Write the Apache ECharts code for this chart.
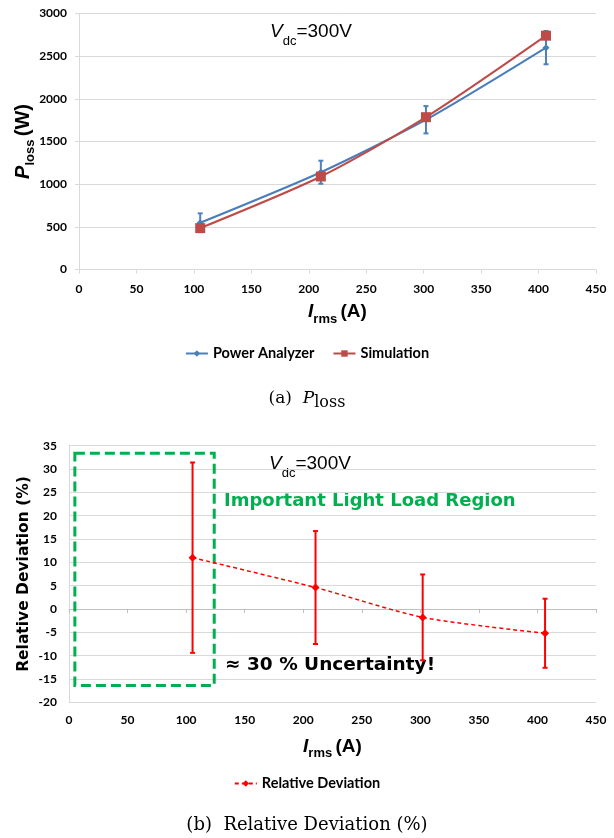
<!DOCTYPE html>
<html>
<head>
<meta charset="utf-8">
<script src="https://cdn.jsdelivr.net/npm/echarts@6/dist/echarts.min.js"></script>
<style>
html,body{margin:0;padding:0;background:#fff;}
#c{width:614px;height:838px;}
</style>
</head>
<body>
<div id="c"></div>
<script>
// ---- data ----
var currentA = [105.5, 210.5, 302, 406.5];
var powerAnalyzer = [548, 1140, 1755, 2600];
var powerAnalyzerErr = [110, 135, 160, 195];
var simulation = [485, 1090, 1785, 2740];
var relDeviation = [11.0, 4.6, -1.8, -5.2];
var relDeviationErr = [20.4, 12.1, 9.2, 7.4];
var xTicks = [0, 50, 100, 150, 200, 250, 300, 350, 400, 450];
var lossTicks = [0, 500, 1000, 1500, 2000, 2500, 3000];
var devTicks = [-20, -15, -10, -5, 0, 5, 10, 15, 20, 25, 30, 35];
var regionBox = [[5, 33.4], [124, -16.4]];

function pairs(xs, ys) { return xs.map(function (x, i) { return [x, ys[i]]; }); }
function errData(xs, ys, es) { return xs.map(function (x, i) { return [x, ys[i] - es[i], ys[i] + es[i]]; }); }

function errRender(color, width, cap) {
  return function (params, api) {
    var lo = api.coord([api.value(0), api.value(1)]);
    var hi = api.coord([api.value(0), api.value(2)]);
    var st = { stroke: color, lineWidth: width };
    return { type: 'group', children: [
      { type: 'line', shape: { x1: lo[0], y1: lo[1], x2: hi[0], y2: hi[1] }, style: st },
      { type: 'line', shape: { x1: lo[0] - cap, y1: lo[1], x2: lo[0] + cap, y2: lo[1] }, style: st },
      { type: 'line', shape: { x1: hi[0] - cap, y1: hi[1], x2: hi[0] + cap, y2: hi[1] }, style: st }
    ]};
  };
}

function plain(v) { return String(v); }
var tickFont = { fontFamily: 'Lato', fontWeight: 'bold', fontSize: 12, color: '#000', formatter: plain };
var gridColor = '#d9d9d9';

var chart = echarts.init(document.getElementById('c'), null, { renderer: 'canvas' });

var vdcRich = {
  v: { fontFamily: 'Liberation Sans', fontStyle: 'italic', fontSize: 19, color: '#000', verticalAlign: 'top' },
  s: { fontFamily: 'Liberation Sans', fontSize: 13, color: '#000', padding: [13, 0, 0, 0], verticalAlign: 'top' },
  n: { fontFamily: 'Liberation Sans', fontSize: 19, color: '#000', verticalAlign: 'top' }
};
var irmsRich = {
  i: { fontFamily: 'Liberation Sans', fontStyle: 'italic', fontWeight: 'bold', fontSize: 19, color: '#000', verticalAlign: 'top' },
  s: { fontFamily: 'Liberation Sans', fontWeight: 'bold', fontSize: 13, color: '#000', padding: [10, 0, 0, 0], verticalAlign: 'top' },
  b: { fontFamily: 'Liberation Sans', fontWeight: 'bold', fontSize: 19, color: '#000', verticalAlign: 'top' }
};
var plossRich = {
  p: { fontFamily: 'Liberation Sans', fontStyle: 'italic', fontWeight: 'bold', fontSize: 20, color: '#000', verticalAlign: 'top' },
  s: { fontFamily: 'Liberation Sans', fontWeight: 'bold', fontSize: 13, color: '#000', padding: [11, 0, 0, 0], verticalAlign: 'top' },
  b: { fontFamily: 'Liberation Sans', fontWeight: 'bold', fontSize: 20, color: '#000', verticalAlign: 'top' }
};

var option = {
  animation: false,
  backgroundColor: '#fff',
  title: [
    { text: '(a)  {p|P}{s|loss}', left: 'center', top: 382,
      textStyle: { fontFamily: 'DejaVu Serif', fontWeight: 'normal', fontSize: 17, color: '#000',
        rich: { p: { fontFamily: 'DejaVu Serif', fontStyle: 'italic', fontSize: 17 },
                s: { fontFamily: 'DejaVu Serif', fontSize: 16, padding: [8, 0, 0, 0], verticalAlign: 'bottom' } } } },
    { text: '(b)  Relative Deviation (%)', left: 'center', top: 811,
      textStyle: { fontFamily: 'DejaVu Serif', fontWeight: 'normal', fontSize: 18, color: '#000' } }
  ],
  legend: [
    { data: ['Power Analyzer', 'Simulation'], top: 341, left: 'center', itemWidth: 22, itemHeight: 8, itemGap: 18,
      textStyle: { fontFamily: 'Lato', fontWeight: 'bold', fontSize: 14.5, color: '#000' } },
    { data: ['Relative Deviation'], top: 771, left: 'center', itemWidth: 22, itemHeight: 8,
      textStyle: { fontFamily: 'Lato', fontWeight: 'bold', fontSize: 14.5, color: '#000' } }
  ],
  grid: [
    { left: 79, top: 13.5, width: 517, height: 256 },
    { left: 69, top: 445.7, width: 527, height: 256.6 }
  ],
  xAxis: [
    { gridIndex: 0, type: 'value', min: xTicks[0], max: xTicks[xTicks.length - 1], interval: 50,
      axisLine: { onZero: false, lineStyle: { color: gridColor } }, axisTick: { show: true, length: 4, lineStyle: { color: gridColor } },
      splitLine: { show: false }, axisLabel: Object.assign({}, tickFont, { margin: 14 }),
      name: '{i|I}{s|rms} {b|(A)}', nameLocation: 'middle', nameGap: 33, nameMoveOverlap: false,
      nameTextStyle: { rich: irmsRich } },
    { gridIndex: 1, type: 'value', min: xTicks[0], max: xTicks[xTicks.length - 1], interval: 50, position: 'bottom',
      axisLine: { show: false, onZero: false }, axisTick: { show: false },
      splitLine: { show: false }, axisLabel: Object.assign({}, tickFont, { margin: 12 }),
      name: '{i|I}{s|rms} {b|(A)}', nameLocation: 'middle', nameGap: 35, nameMoveOverlap: false,
      nameTextStyle: { rich: irmsRich } },
    { gridIndex: 1, type: 'value', min: xTicks[0], max: xTicks[xTicks.length - 1], interval: 50, position: 'bottom',
      axisLine: { show: true, onZero: true, onZeroAxisIndex: 1, lineStyle: { color: '#bfbfbf' } },
      axisTick: { show: true, length: 4, lineStyle: { color: '#bfbfbf' } },
      splitLine: { show: false }, axisLabel: { show: false } }
  ],
  yAxis: [
    { gridIndex: 0, type: 'value', min: lossTicks[0], max: lossTicks[lossTicks.length - 1], interval: 500,
      axisLine: { show: true, lineStyle: { color: gridColor } }, axisTick: { show: true, length: 4, lineStyle: { color: gridColor } },
      splitLine: { lineStyle: { color: gridColor } }, axisLabel: Object.assign({}, tickFont, { margin: 12 }),
      name: '{p|P}{s|loss} {b|(W)}', nameLocation: 'middle', nameGap: 42, nameRotate: 90, nameMoveOverlap: false,
      nameTextStyle: { rich: plossRich } },
    { gridIndex: 1, type: 'value', min: devTicks[0], max: devTicks[devTicks.length - 1], interval: 5,
      axisLine: { show: true, lineStyle: { color: gridColor } }, axisTick: { show: false },
      splitLine: { lineStyle: { color: gridColor } }, axisLabel: Object.assign({}, tickFont, { margin: 12 }),
      name: 'Relative Deviation (%)', nameLocation: 'middle', nameGap: 37, nameRotate: 90, nameMoveOverlap: false,
      nameTextStyle: { fontFamily: 'DejaVu Sans', fontWeight: 'bold', fontSize: 15.5, color: '#000' } }
  ],
  series: [
    { name: 'PA err', type: 'custom', xAxisIndex: 0, yAxisIndex: 0, z: 3,
      renderItem: errRender('#4f81bd', 2, 2.5), data: errData(currentA, powerAnalyzer, powerAnalyzerErr), silent: true },
    { name: 'Power Analyzer', type: 'line', xAxisIndex: 0, yAxisIndex: 0, smooth: 0.25,
      data: pairs(currentA, powerAnalyzer), symbol: 'diamond', symbolSize: 7,
      lineStyle: { color: '#4a7ebb', width: 2 }, itemStyle: { color: '#4a7ebb' } },
    { name: 'Simulation', type: 'line', xAxisIndex: 0, yAxisIndex: 0, smooth: 0.25, z: 4,
      data: pairs(currentA, simulation), symbol: 'rect', symbolSize: 10,
      lineStyle: { color: '#be4b48', width: 2 }, itemStyle: { color: '#be4b48' } },
    { name: 'RD err', type: 'custom', xAxisIndex: 1, yAxisIndex: 1, z: 3,
      renderItem: errRender('#ff0000', 2, 2.5), data: errData(currentA, relDeviation, relDeviationErr), silent: true },
    { name: 'Relative Deviation', type: 'line', xAxisIndex: 1, yAxisIndex: 1, smooth: 0.25, z: 4,
      data: pairs(currentA, relDeviation), symbol: 'diamond', symbolSize: 8,
      lineStyle: { color: '#ff0000', width: 1.5, type: [4, 3] }, itemStyle: { color: '#ff0000' },
      markArea: { silent: true,
        itemStyle: { color: 'rgba(0,0,0,0)', borderColor: '#00b050', borderWidth: 3, borderType: [10, 5] },
        data: [[{ coord: regionBox[0] }, { coord: regionBox[1] }]] } }
  ],
  graphic: [
    { type: 'text', left: 270, top: 22, style: { text: '{v|V}{s|dc}{n|=300V}', rich: vdcRich } },
    { type: 'text', left: 269, top: 454, style: { text: '{v|V}{s|dc}{n|=300V}', rich: vdcRich } },
    { type: 'text', left: 224, top: 492, style: { text: 'Important Light Load Region', fontFamily: 'DejaVu Sans', fontWeight: 'bold', fontSize: 18, fill: '#00b050' } },
    { type: 'text', left: 225, top: 656, style: { text: '≈ 30 % Uncertainty!', fontFamily: 'DejaVu Sans', fontWeight: 'bold', fontSize: 18.5, fill: '#000' } }
  ]
};
chart.setOption(option);
</script>
</body>
</html>
